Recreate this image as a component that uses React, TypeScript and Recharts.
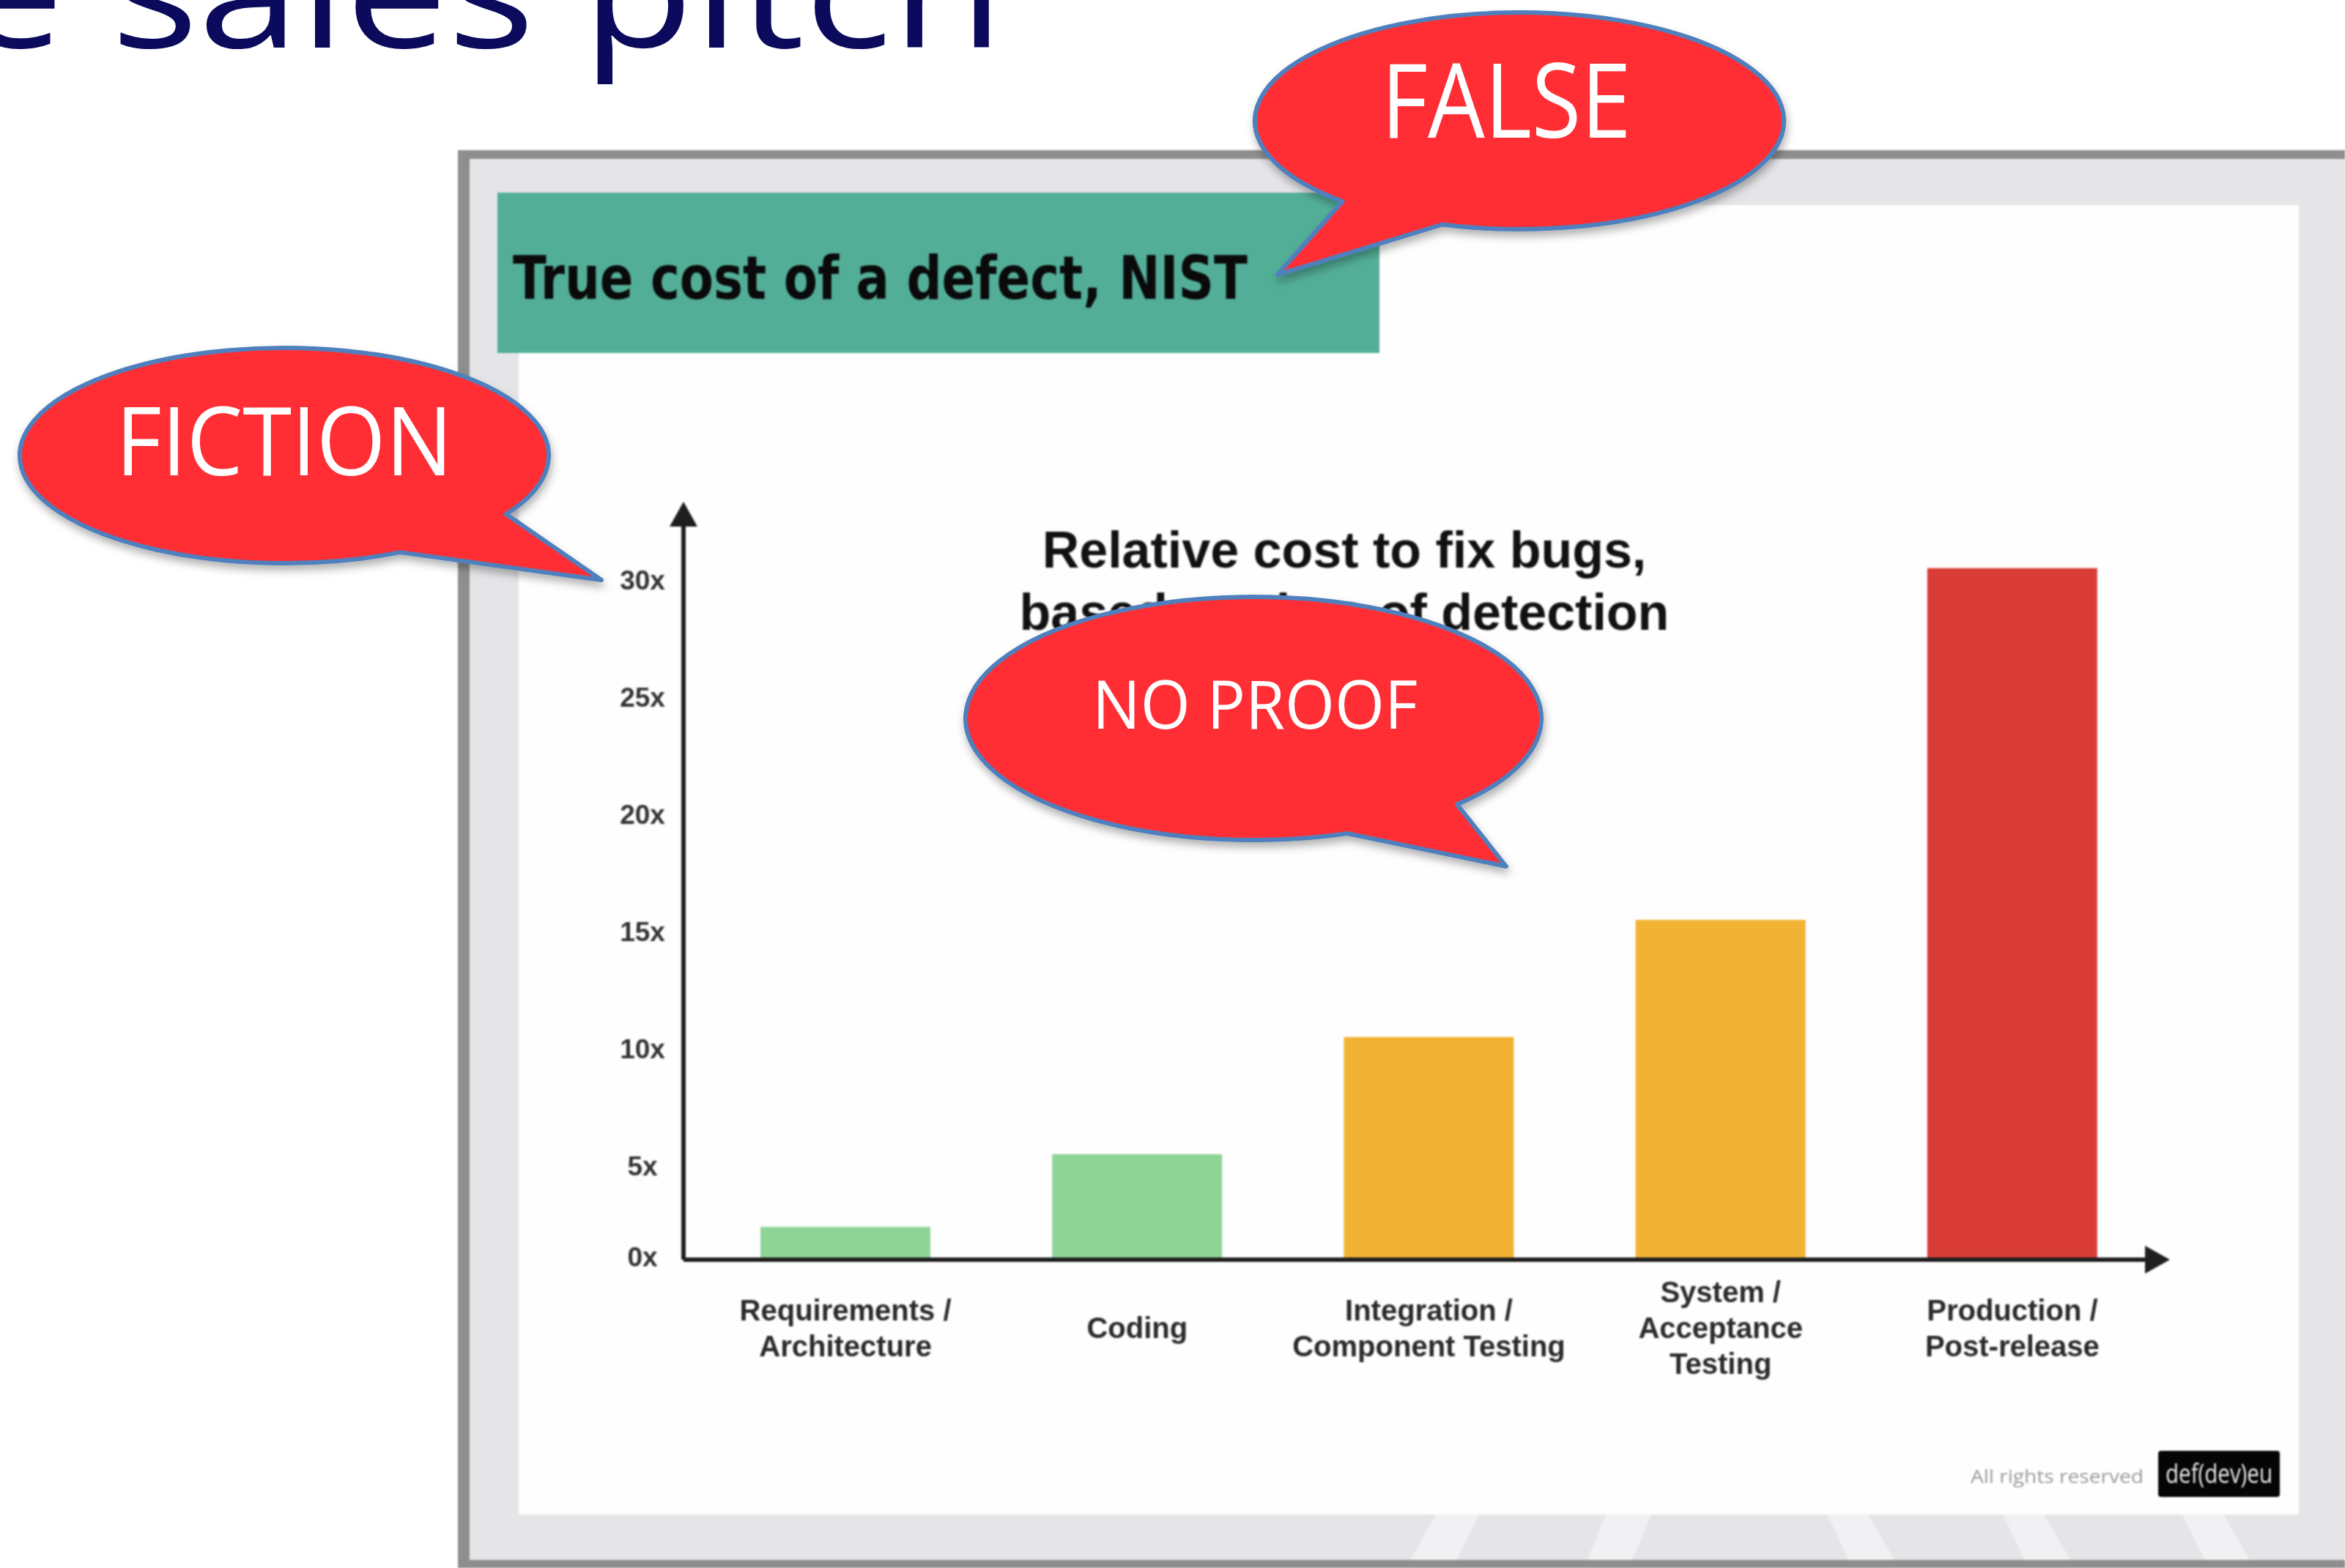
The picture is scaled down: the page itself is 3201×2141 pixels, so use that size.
import { BarChart, Bar, Cell, XAxis, YAxis } from "recharts";

// stages of detection and relative cost to fix
const STAGES = [
  "Requirements /\nArchitecture",
  "Coding",
  "Integration /\nComponent Testing",
  "System /\nAcceptance\nTesting",
  "Production /\nPost-release",
];
const COST = [1.9, 5, 10, 15, 30];
const BAR_COLORS = ["#8fd497", "#8fd497", "#f2b233", "#f2b233", "#d93c37"];

// the original axis origin sits half a unit above zero
const Y_MIN = 0.5;
const Y_MAX = 32.65;
const Y_TICKS = [Y_MIN, 5, 10, 15, 20, 25, 30];
const Y_TICK_LABELS = ["0x", "5x", "10x", "15x", "20x", "25x", "30x"];

const CHART_TITLE = ["Relative cost to fix bugs,", "based on time of detection"];
const SLIDE_TITLE = "The sales pitch";
const BOX_TITLE = "True cost of a defect, NIST";

// speech bubbles: centre, radii, tail gap angles (deg), tail tip
const BUBBLES = [
  { text: "FALSE", cx: 2074, cy: 165, rx: 361, ry: 148, a1: 107, a2: 132, tx: 1744, ty: 375, fs: 141, tl: 341, tyText: 188, txText: 2056 },
  { text: "FICTION", cx: 388, cy: 622, rx: 361, ry: 147, a1: 33, a2: 64, tx: 821, ty: 792, fs: 130, tl: 460, tyText: 649, txText: 388 },
  { text: "NO PROOF", cx: 1711, cy: 981, rx: 393, ry: 166, a1: 45, a2: 71, tx: 2056, ty: 1183, fs: 91, tl: 444, tyText: 995, txText: 1713 },
];

// light stripes on the grey floor under the slide screenshot
const STRIPES = [
  [[1960, 2068], [2019, 2068], [1988, 2130], [1925, 2130]],
  [[2192, 2068], [2254, 2068], [2228, 2130], [2167, 2130]],
  [[2494, 2068], [2550, 2068], [2586, 2130], [2524, 2130]],
  [[2734, 2068], [2790, 2068], [2826, 2130], [2764, 2130]],
  [[2979, 2068], [3035, 2068], [3071, 2130], [3010, 2130]],
];

const W = 3201;
const H = 2141;
const SANS = "'Liberation Sans', Arial, sans-serif";
const CALIBRI = "'Open Sans', 'Noto Sans', sans-serif";

const data = STAGES.map((stage, i) => ({ stage, cost: COST[i] }));

function bubblePath(b: any) {
  const pt = (a: number) => [b.cx + b.rx * Math.cos((a * Math.PI) / 180), b.cy + b.ry * Math.sin((a * Math.PI) / 180)];
  const [x2, y2] = pt(b.a2);
  const [x1, y1] = pt(b.a1);
  return `M${x2},${y2} A${b.rx},${b.ry} 0 1 1 ${x1},${y1} L${b.tx},${b.ty} Z`;
}

const YTick = ({ x, y, payload }: any) => {
  const idx = Y_TICKS.indexOf(payload.value);
  const off = payload.value === Y_MIN ? -4 : 16;
  return (
    <text x={x - 56} y={y + off} dy="0.35em" textAnchor="middle" fontFamily={SANS} fontWeight="bold" fontSize={37} fill="#333">
      {Y_TICK_LABELS[idx]}
    </text>
  );
};

const XTick = ({ x, y, payload }: any) => {
  const lines = String(payload.value).split("\n");
  return (
    <g>
      {lines.map((line, i) => (
        <text
          key={i}
          x={x}
          y={y + 93 + (i - (lines.length - 1) / 2) * 49}
          dy="0.35em"
          textAnchor="middle"
          fontFamily={SANS}
          fontWeight="bold"
          fontSize={40}
          fill="#2a2a2a"
        >
          {line}
        </text>
      ))}
    </g>
  );
};

export default function App() {
  return (
    <div style={{ position: "absolute", left: 0, top: 0, width: W, height: H, overflow: "hidden", background: "#fff" }}>
      {/* screenshot background: frame, panel, green heading, chart title, footer */}
      <svg width={W} height={H} style={{ position: "absolute", left: 0, top: 0, filter: "blur(1.2px)" }}>
        <defs>
          <marker id="axisArrow" viewBox="0 0 36 40" markerUnits="userSpaceOnUse" markerWidth={36} markerHeight={40} refX={28} refY={20} orient="auto-start-reverse">
            <path d="M0,1 L34,20 L0,39 Z" fill="#1e1e1e" />
          </marker>
        </defs>
        <rect x={625} y={205} width={W - 625} height={H - 205} fill="#8e8e8e" />
        <rect x={641} y={217} width={W - 641} height={2130 - 217} fill="#e5e5e8" />
        {STRIPES.map((s, i) => (
          <polygon key={i} points={s.map((p) => p.join(",")).join(" ")} fill="#f1f1f3" />
        ))}
        <rect x={708} y={280} width={3138 - 708} height={2068 - 280} fill="#fefefe" />
        <rect x={679} y={263} width={1883 - 679} height={482 - 263} fill="#53ae98" />
        <text
          x={700}
          y={408}
          fontFamily="'DejaVu Sans Condensed', 'DejaVu Sans', sans-serif"
          fontWeight="bold"
          fontSize={82}
          fill="#0a0a0a"
          textLength={1003}
          lengthAdjust="spacingAndGlyphs"
        >
          {BOX_TITLE}
        </text>
        {CHART_TITLE.map((t, i) => (
          <text key={i} x={1835} y={775 + i * 85} textAnchor="middle" fontFamily={SANS} fontWeight="bold" fontSize={70} fill="#111">
            {t}
          </text>
        ))}
        <text x={2926} y={2025} textAnchor="end" fontFamily={CALIBRI} fontSize={26} fill="#9b9b9b" textLength={236} lengthAdjust="spacingAndGlyphs">
          All rights reserved
        </text>
        <rect x={2946} y={1981} width={166} height={63} rx={4} fill="#050505" />
        <text x={3029} y={2025} textAnchor="middle" fontFamily={CALIBRI} fontSize={36} fill="#e8e8e8" textLength={146} lengthAdjust="spacingAndGlyphs">
          def(dev)eu
        </text>
      </svg>

      {/* the bar chart itself */}
      <div style={{ position: "absolute", left: 0, top: 0, filter: "blur(1.2px)" }}>
        <BarChart width={W} height={H} data={data} margin={{ top: 691, right: 245, bottom: 271, left: 833 }}>
          <XAxis
            dataKey="stage"
            height={150}
            interval={0}
            padding={{ left: 22, right: 10 }}
            tickSize={0}
            tickMargin={0}
            tickLine={false}
            axisLine={{ stroke: "#1e1e1e", strokeWidth: 6, markerEnd: "url(#axisArrow)" } as any}
            tick={<XTick />}
          />
          <YAxis
            type="number"
            domain={[Y_MIN, Y_MAX]}
            ticks={Y_TICKS}
            allowDataOverflow
            interval={0}
            width={100}
            tickSize={0}
            tickMargin={0}
            tickLine={false}
            axisLine={{ stroke: "#1e1e1e", strokeWidth: 6, markerStart: "url(#axisArrow)" } as any}
            tick={<YTick />}
          />
          <Bar dataKey="cost" barSize={232} isAnimationActive={false}>
            {data.map((d, i) => (
              <Cell key={d.stage} fill={BAR_COLORS[i]} />
            ))}
          </Bar>
        </BarChart>
      </div>

      {/* slide title and speech bubbles on top */}
      <svg width={W} height={H} style={{ position: "absolute", left: 0, top: 0 }}>
        <defs>
          <filter id="bubbleShadow" x="-20%" y="-20%" width="140%" height="150%">
            <feDropShadow dx={2} dy={7} stdDeviation={6} floodColor="#000" floodOpacity={0.3} />
          </filter>
        </defs>
        <text
          x={1370}
          y={65}
          textAnchor="end"
          fontFamily={CALIBRI}
          fontSize={210}
          fill="#0b0a5c"
          textLength={1712}
          lengthAdjust="spacingAndGlyphs"
        >
          {SLIDE_TITLE}
        </text>
        {BUBBLES.map((b) => (
          <g key={b.text}>
            <path d={bubblePath(b)} fill="#ff2f35" stroke="#4f80bd" strokeWidth={6} strokeLinejoin="round" filter="url(#bubbleShadow)" />
            <text
              x={b.txText}
              y={b.tyText}
              textAnchor="middle"
              fontFamily={CALIBRI}
              fontSize={b.fs}
              fill="#ffffff"
              textLength={b.tl}
              lengthAdjust="spacingAndGlyphs"
            >
              {b.text}
            </text>
          </g>
        ))}
      </svg>
    </div>
  );
}
